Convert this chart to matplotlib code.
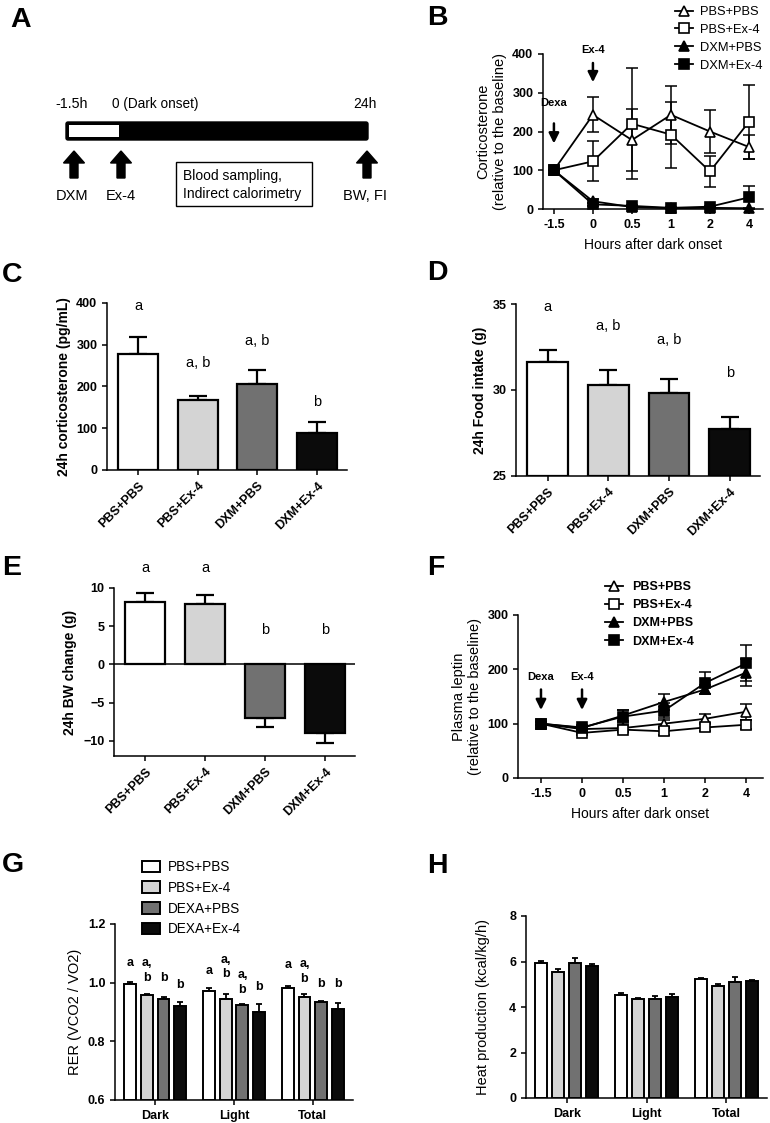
import numpy as np
import matplotlib
matplotlib.use('Agg')
import matplotlib.pyplot as plt
from matplotlib.patches import Rectangle, FancyArrow, FancyBboxPatch

plt.rcParams['font.family'] = ['Liberation Sans', 'DejaVu Sans']
plt.rcParams['axes.linewidth'] = 1.1
plt.rcParams['xtick.major.width'] = 1.1
plt.rcParams['ytick.major.width'] = 1.1
plt.rcParams['xtick.major.size'] = 3.5
plt.rcParams['ytick.major.size'] = 3.5

# ---- data ----
groups = ['PBS+PBS', 'PBS+Ex-4', 'DXM+PBS', 'DXM+Ex-4']
groups_g = ['PBS+PBS', 'PBS+Ex-4', 'DEXA+PBS', 'DEXA+Ex-4']
hours = ['-1.5', '0', '0.5', '1', '2', '4']
periods = ['Dark', 'Light', 'Total']

# B corticosterone time course (relative to baseline)
cort_pbs_pbs = [100, 243, 178, 243, 200, 160]
cort_pbs_pbs_err = [0, 45, 80, 75, 55, 32]
cort_pbs_ex4 = [100, 123, 220, 192, 97, 225]
cort_pbs_ex4_err = [0, 52, 143, 85, 40, 95]
cort_dxm_pbs = [100, 20, 5, 2, 3, 2]
cort_dxm_pbs_err = [0, 5, 2, 1, 1, 1]
cort_dxm_ex4 = [100, 12, 8, 3, 6, 30]
cort_dxm_ex4_err = [0, 4, 2, 1, 2, 30]

# C 24h corticosterone
cort24 = [278, 168, 206, 88]
cort24_err = [40, 10, 33, 27]
cort24_letters = ['a', 'a, b', 'a, b', 'b']
cort24_letter_y = [392, 256, 308, 164]

# D 24h food intake
food = [31.65, 30.3, 29.8, 27.72]
food_err = [0.68, 0.87, 0.83, 0.7]
food_letters = ['a', 'a, b', 'a, b', 'b']
food_letter_y = [34.8, 33.7, 32.9, 31.0]

# E 24h BW change
bw = [8.2, 7.86, -7.0, -8.95]
bw_err = [1.1, 1.22, 1.17, 1.31]
bw_letters = ['a', 'a', 'b', 'b']
bw_letter_y = [12.6, 12.6, 4.5, 4.5]

# F plasma leptin
lep_pbs_pbs = [100, 90, 92, 100, 109, 122]
lep_pbs_pbs_err = [3, 4, 5, 6, 8, 15]
lep_pbs_ex4 = [100, 83, 89, 86, 93, 98]
lep_pbs_ex4_err = [3, 4, 5, 6, 6, 8]
lep_dxm_pbs = [100, 92, 115, 140, 163, 194]
lep_dxm_pbs_err = [3, 4, 10, 15, 8, 25]
lep_dxm_ex4 = [100, 93, 113, 124, 175, 211]
lep_dxm_ex4_err = [3, 5, 12, 14, 20, 33]

# G RER
rer_pbs_pbs = [0.995, 0.973, 0.981]
rer_pbs_pbs_err = [0.006, 0.010, 0.009]
rer_pbs_ex4 = [0.957, 0.946, 0.952]
rer_pbs_ex4_err = [0.005, 0.014, 0.011]
rer_dexa_pbs = [0.946, 0.923, 0.934]
rer_dexa_pbs_err = [0.005, 0.004, 0.003]
rer_dexa_ex4 = [0.920, 0.899, 0.911]
rer_dexa_ex4_err = [0.015, 0.028, 0.021]
rer_letters = [['a', 'a,\nb', 'b', 'b'],
               ['a', 'a,\nb', 'a,\nb', 'b'],
               ['a', 'a,\nb', 'b', 'b']]
rer_letter_y = [[1.066, 1.042, 1.015, 0.992],
                [1.040, 1.053, 1.000, 0.986],
                [1.060, 1.038, 0.997, 0.997]]

# H heat production
heat_pbs_pbs = [5.92, 4.51, 5.21]
heat_pbs_pbs_err = [0.11, 0.11, 0.06]
heat_pbs_ex4 = [5.52, 4.33, 4.93]
heat_pbs_ex4_err = [0.13, 0.07, 0.06]
heat_dexa_pbs = [5.95, 4.33, 5.10]
heat_dexa_pbs_err = [0.22, 0.15, 0.20]
heat_dexa_ex4 = [5.81, 4.45, 5.14]
heat_dexa_ex4_err = [0.06, 0.12, 0.06]

bar_colors = ['white', '#d4d4d4', '#717171', '#0b0b0b']

W, H = 770, 1123
fig = plt.figure(figsize=(W / 100, H / 100), dpi=100)


def fx(px):
    return px / W


def fy(py):
    return 1 - py / H


def box(x0, y0, x1, y1):
    return fig.add_axes([x0 / W, 1 - y1 / H, (x1 - x0) / W, (y1 - y0) / H])


def prism(ax):
    for s in ['top', 'right']:
        ax.spines[s].set_visible(False)
    ax.tick_params(labelsize=9)
    for lab in ax.get_xticklabels() + ax.get_yticklabels():
        lab.set_fontweight('bold')


def bar_panel(ax, vals, errs, letters, letter_y, bottom=0):
    x = np.arange(len(vals))
    vals = np.array(vals)
    ax.bar(x, vals - bottom, bottom=bottom, width=0.67, color=bar_colors,
           edgecolor='black', linewidth=1.6, zorder=3)
    up = [e if v >= 0 else 0 for v, e in zip(vals, errs)]
    dn = [e if v < 0 else 0 for v, e in zip(vals, errs)]
    ax.errorbar(x, vals, yerr=[dn, up], fmt='none', ecolor='black',
                elinewidth=1.6, capsize=6.5, capthick=1.6, zorder=2)
    for xi, t, ty in zip(x, letters, letter_y):
        ax.text(xi, ty, t, ha='center', va='center', fontsize=10.5)
    ax.set_xticks(x)
    ax.set_xticklabels(groups, rotation=45, ha='right', rotation_mode='anchor')
    ax.set_xlim(-0.52, 3.5)


def line_panel(ax, series, errs):
    x = np.arange(len(hours))
    styles = [('^', 'white', 7.5), ('s', 'white', 7), ('^', 'black', 7.5), ('s', 'black', 7)]
    handles = []
    for vals, e, (m, fc, ms), lab in zip(series, errs, styles, groups):
        ax.errorbar(x, vals, yerr=e, fmt='none', ecolor='black', elinewidth=1.1,
                    capsize=4, capthick=1.1, zorder=2)
        h, = ax.plot(x, vals, color='black', lw=1.3, marker=m, ms=ms,
                     mfc=fc, mec='black', mew=1.2, zorder=3, label=lab, clip_on=False)
        handles.append(h)
    ax.set_xticks(x)
    ax.set_xticklabels(hours)
    ax.set_xlabel('Hours after dark onset', fontsize=10, labelpad=5)
    return handles


def arrow_note(ax, x, y_tail, y_tip, y_text, text):
    ax.annotate('', xy=(x, y_tip), xytext=(x, y_tail),
                arrowprops=dict(arrowstyle='-|>', color='black', lw=1.8, mutation_scale=15))
    ax.text(x, y_text, text, ha='center', va='center', fontsize=8, fontweight='bold')


def group_panel(ax, series, errs, bottom=0):
    x = np.arange(len(periods))
    step = 0.213
    for i, (vals, e) in enumerate(zip(series, errs)):
        xi = x + (i - 1.5) * step
        vals = np.array(vals)
        ax.bar(xi, vals - bottom, bottom=bottom, width=0.15, color=bar_colors[i],
               edgecolor='black', linewidth=1.4, zorder=3, label=groups_g[i])
        ax.errorbar(xi, vals, yerr=[np.zeros(len(vals)), e], fmt='none', ecolor='black',
                    elinewidth=1.3, capsize=2.5, capthick=1.3, zorder=2)
    ax.set_xticks(x)
    ax.set_xticklabels(periods, fontsize=9.5)
    ax.set_xlim(-0.51, 2.51)
    return step


# ---- panel letters ----
for lab, px, py in [('A', 10, 27), ('B', 427, 25), ('C', 2, 282), ('D', 427, 280),
                    ('E', 2, 575), ('F', 427, 575), ('G', 2, 872), ('H', 427, 873)]:
    fig.text(fx(px), fy(py), lab, fontsize=20.5, fontweight='bold', va='baseline', ha='left')

# ---- A: protocol schematic ----
axA = box(0, 0, 400, 220)
axA.set_xlim(0, 400)
axA.set_ylim(220, 0)
axA.axis('off')
axA.add_patch(FancyBboxPatch((66, 122), 302, 18, boxstyle='round,pad=0,rounding_size=2',
                             fc='black', ec='black'))
axA.add_patch(Rectangle((69, 125), 50, 12, fc='white', ec='none'))
axA.text(72, 104, '-1.5h', ha='center', va='center', fontsize=10.3)
axA.text(112, 104, '0 (Dark onset)', ha='left', va='center', fontsize=9.8)
axA.text(365, 104, '24h', ha='center', va='center', fontsize=10)
for ax_x in [74, 121, 367]:
    axA.add_patch(FancyArrow(ax_x, 178, 0, -27, width=8, head_width=21, head_length=12,
                             length_includes_head=True, fc='black', ec='black'))
axA.text(72, 196, 'DXM', ha='center', va='center', fontsize=10.5)
axA.text(121, 196, 'Ex-4', ha='center', va='center', fontsize=10.5)
axA.text(365, 196, 'BW, FI', ha='center', va='center', fontsize=10.5)
axA.add_patch(Rectangle((176, 162), 136, 44, fc='none', ec='black', lw=1.0))
axA.text(183, 176, 'Blood sampling,', ha='left', va='center', fontsize=10)
axA.text(183, 194, 'Indirect calorimetry', ha='left', va='center', fontsize=10)

# ---- B: corticosterone time course ----
axB = box(543, 54, 763, 209)
hB = line_panel(axB, [cort_pbs_pbs, cort_pbs_ex4, cort_dxm_pbs, cort_dxm_ex4],
                [cort_pbs_pbs_err, cort_pbs_ex4_err, cort_dxm_pbs_err, cort_dxm_ex4_err])
axB.set_ylim(0, 400)
axB.set_yticks([0, 100, 200, 300, 400])
axB.set_xlim(-0.28, 5.36)
axB.set_ylabel('Corticosterone\n(relative to the baseline)', fontsize=10.5)
arrow_note(axB, 0, 228, 162, 273, 'Dexa')
arrow_note(axB, 1, 384, 320, 410, 'Ex-4')
axB.legend(handles=hB, loc='upper left', bbox_to_anchor=(fx(675), fy(6)),
           bbox_transform=fig.transFigure, frameon=False, fontsize=9.3,
           handlelength=1.4, handletextpad=0.55, labelspacing=0.45, borderpad=0,
           borderaxespad=0)
prism(axB)

# ---- C: 24h corticosterone ----
axC = box(107, 303, 347, 470)
bar_panel(axC, cort24, cort24_err, cort24_letters, cort24_letter_y)
axC.set_ylim(0, 400)
axC.set_yticks([0, 100, 200, 300, 400])
axC.set_ylabel('24h corticosterone (pg/mL)', fontsize=10, fontweight='bold')
prism(axC)

# ---- D: 24h food intake ----
axD = box(516, 304, 760, 476)
bar_panel(axD, food, food_err, food_letters, food_letter_y, bottom=25)
axD.set_ylim(25, 35)
axD.set_yticks([25, 30, 35])
axD.set_ylabel('24h Food intake (g)', fontsize=10, fontweight='bold')
prism(axD)

# ---- E: 24h BW change ----
axE = box(114, 588, 355, 756)
bar_panel(axE, bw, bw_err, bw_letters, bw_letter_y)
axE.axhline(0, color='black', lw=1.1, zorder=4)
axE.set_ylim(-12, 10)
axE.set_yticks([-10, -5, 0, 5, 10])
axE.set_ylabel('24h BW change (g)', fontsize=10, fontweight='bold')
prism(axE)

# ---- F: plasma leptin ----
axF = box(518, 615, 763, 778)
hF = line_panel(axF, [lep_pbs_pbs, lep_pbs_ex4, lep_dxm_pbs, lep_dxm_ex4],
                [lep_pbs_pbs_err, lep_pbs_ex4_err, lep_dxm_pbs_err, lep_dxm_ex4_err])
axF.set_ylim(0, 300)
axF.set_yticks([0, 100, 200, 300])
axF.set_xlim(-0.56, 5.41)
axF.set_ylabel('Plasma leptin\n(relative to the baseline)', fontsize=10.5)
arrow_note(axF, 0, 168, 120, 186, 'Dexa')
arrow_note(axF, 1, 168, 120, 186, 'Ex-4')
axF.legend(handles=hF, loc='upper left', bbox_to_anchor=(fx(605), fy(581)),
           bbox_transform=fig.transFigure, frameon=False,
           prop={'size': 9, 'weight': 'bold'},
           handlelength=1.4, handletextpad=0.8, labelspacing=0.5, borderpad=0,
           borderaxespad=0)
prism(axF)

# ---- G: RER ----
axG = box(115, 924, 353, 1100)
stepG = group_panel(axG, [rer_pbs_pbs, rer_pbs_ex4, rer_dexa_pbs, rer_dexa_ex4],
                    [rer_pbs_pbs_err, rer_pbs_ex4_err, rer_dexa_pbs_err, rer_dexa_ex4_err],
                    bottom=0.6)
for p in range(len(periods)):
    for i in range(4):
        axG.text(p + (i - 1.5) * stepG, rer_letter_y[p][i], rer_letters[p][i],
                 ha='center', va='center', fontsize=9, fontweight='bold', linespacing=1.3)
axG.set_ylim(0.6, 1.2)
axG.set_yticks([0.6, 0.8, 1.0, 1.2])
axG.set_ylabel('RER (VCO2 / VO2)', fontsize=10.5)
axG.legend(loc='upper left', bbox_to_anchor=(fx(142), fy(860)),
           bbox_transform=fig.transFigure, frameon=False, fontsize=9.8,
           handlelength=1.3, handleheight=0.9, handletextpad=0.6, labelspacing=0.5,
           borderpad=0, borderaxespad=0)
prism(axG)

# ---- H: heat production ----
axH = box(526, 916, 767, 1098)
group_panel(axH, [heat_pbs_pbs, heat_pbs_ex4, heat_dexa_pbs, heat_dexa_ex4],
            [heat_pbs_pbs_err, heat_pbs_ex4_err, heat_dexa_pbs_err, heat_dexa_ex4_err])
axH.set_ylim(0, 8)
axH.set_yticks([0, 2, 4, 6, 8])
axH.set_ylabel('Heat production (kcal/kg/h)', fontsize=10.5, labelpad=14)
prism(axH)

fig.savefig('out.png', dpi=100)
